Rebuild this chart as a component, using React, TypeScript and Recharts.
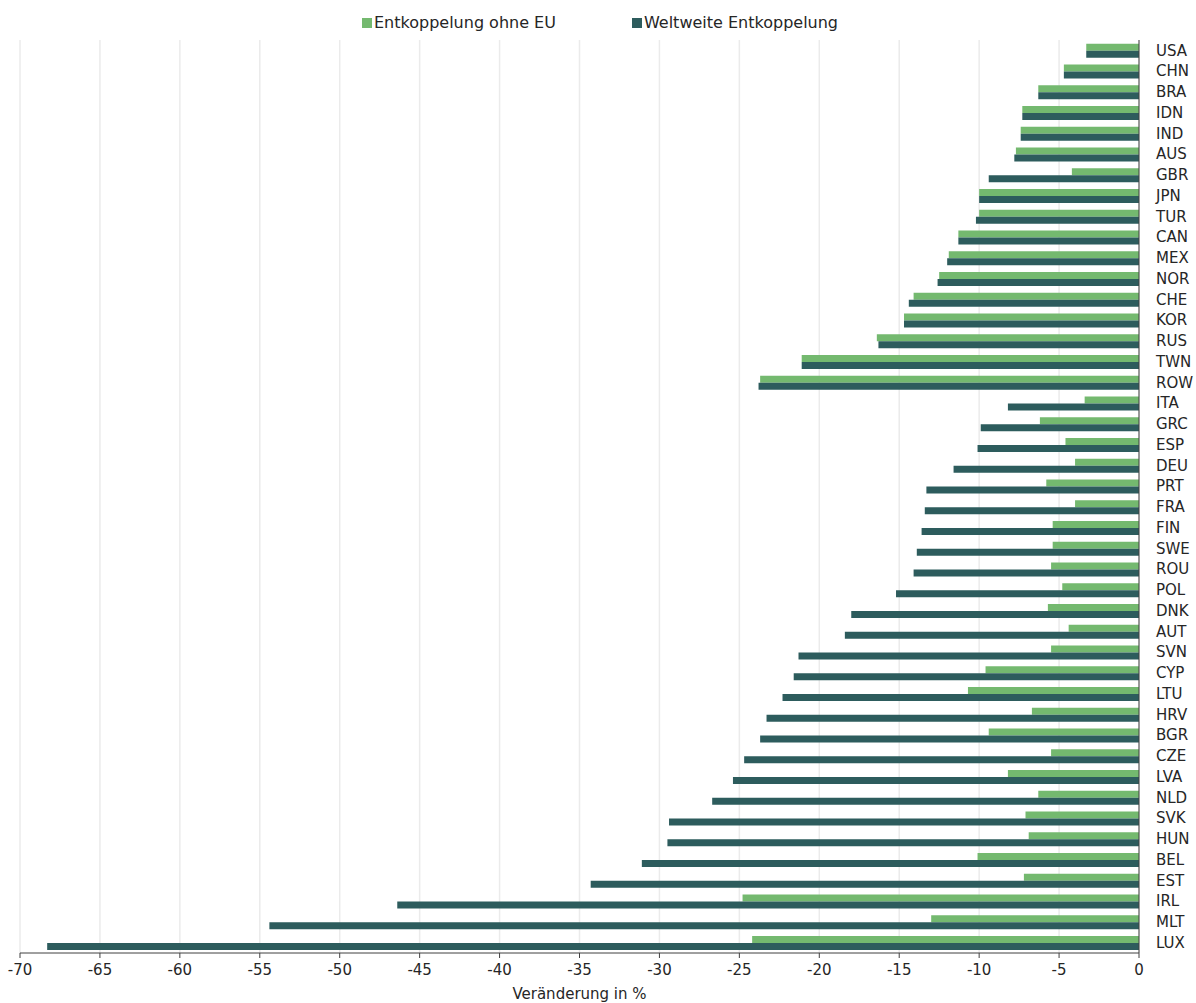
import { Bar, BarChart, CartesianGrid, Legend, XAxis, YAxis } from "recharts";

const CHART_WIDTH = 1196;
const CHART_HEIGHT = 1003;
const GREEN = "#74b96f";
const DARK = "#2d5c5d";
const TEXT = "#262626";
const FONT = "'DejaVu Sans', sans-serif";

const countries = [
  "USA", "CHN", "BRA", "IDN", "IND", "AUS", "GBR", "JPN", "TUR", "CAN", "MEX",
  "NOR", "CHE", "KOR", "RUS", "TWN", "ROW", "ITA", "GRC", "ESP", "DEU", "PRT",
  "FRA", "FIN", "SWE", "ROU", "POL", "DNK", "AUT", "SVN", "CYP", "LTU", "HRV",
  "BGR", "CZE", "LVA", "NLD", "SVK", "HUN", "BEL", "EST", "IRL", "MLT", "LUX",
];

const ohneEU = [
  -3.3, -4.7, -6.3, -7.3, -7.4, -7.7, -4.2, -10.0, -10.0, -11.3, -11.9,
  -12.5, -14.1, -14.7, -16.4, -21.1, -23.7, -3.4, -6.2, -4.6, -4.0, -5.8,
  -4.0, -5.4, -5.4, -5.5, -4.8, -5.7, -4.4, -5.5, -9.6, -10.7, -6.7,
  -9.4, -5.5, -8.2, -6.3, -7.1, -6.9, -10.1, -7.2, -24.8, -13.0, -24.2,
];

const weltweit = [
  -3.3, -4.7, -6.3, -7.3, -7.4, -7.8, -9.4, -10.0, -10.2, -11.3, -12.0,
  -12.6, -14.4, -14.7, -16.3, -21.1, -23.8, -8.2, -9.9, -10.1, -11.6, -13.3,
  -13.4, -13.6, -13.9, -14.1, -15.2, -18.0, -18.4, -21.3, -21.6, -22.3, -23.3,
  -23.7, -24.7, -25.4, -26.7, -29.4, -29.5, -31.1, -34.3, -46.4, -54.4, -68.3,
];

const xTicks = [-70, -65, -60, -55, -50, -45, -40, -35, -30, -25, -20, -15, -10, -5, 0];

const seriesNames = ["Entkoppelung ohne EU", "Weltweite Entkoppelung"];

const data = countries.map((country, i) => ({
  country,
  ohneEU: ohneEU[i],
  weltweit: weltweit[i],
}));

function ChartLegend(): React.ReactElement {
  const items = [
    { name: seriesNames[0], color: GREEN },
    { name: seriesNames[1], color: DARK },
  ];
  return (
    <div style={{ display: "flex", justifyContent: "center", gap: 76, paddingLeft: 4, fontFamily: FONT, fontSize: 16, color: TEXT }}>
      {items.map((item) => (
        <div key={item.name} style={{ display: "flex", alignItems: "center", gap: 2 }}>
          <span style={{ display: "inline-block", width: 10, height: 10, background: item.color }} />
          <span>{item.name}</span>
        </div>
      ))}
    </div>
  );
}

export default function App(): React.ReactElement {
  return (
    <div style={{ position: "absolute", left: 0, top: 0, width: CHART_WIDTH, height: CHART_HEIGHT, background: "#fff" }}>
      <BarChart
        width={CHART_WIDTH}
        height={CHART_HEIGHT}
        data={data}
        layout="vertical"
        margin={{ top: 10, right: 0, bottom: 0, left: 20 }}
        barCategoryGap="18%"
        barGap={0}
      >
        <CartesianGrid horizontal={false} stroke="#ebebeb" strokeWidth={1.5} />
        <XAxis
          type="number"
          domain={[-70, 0]}
          ticks={xTicks}
          height={50}
          stroke="#404040"
          tickSize={5}
          tickMargin={6}
          tick={{ fill: TEXT, fontSize: 15, fontFamily: FONT }}
          label={{ value: "Veränderung in %", position: "insideBottom", offset: 4, fill: TEXT, fontSize: 15, fontFamily: FONT }}
        />
        <YAxis
          type="category"
          dataKey="country"
          orientation="right"
          width={57}
          stroke="#404040"
          tickLine={false}
          tickSize={0}
          tickMargin={17}
          interval={0}
          tick={{ fill: TEXT, fontSize: 15, fontFamily: FONT }}
        />
        <Legend verticalAlign="top" wrapperStyle={{ left: 0, top: 13, width: CHART_WIDTH, height: 30 }} content={() => <ChartLegend />} />
        <Bar dataKey="ohneEU" name={seriesNames[0]} fill={GREEN} isAnimationActive={false} />
        <Bar dataKey="weltweit" name={seriesNames[1]} fill={DARK} isAnimationActive={false} />
      </BarChart>
    </div>
  );
}
